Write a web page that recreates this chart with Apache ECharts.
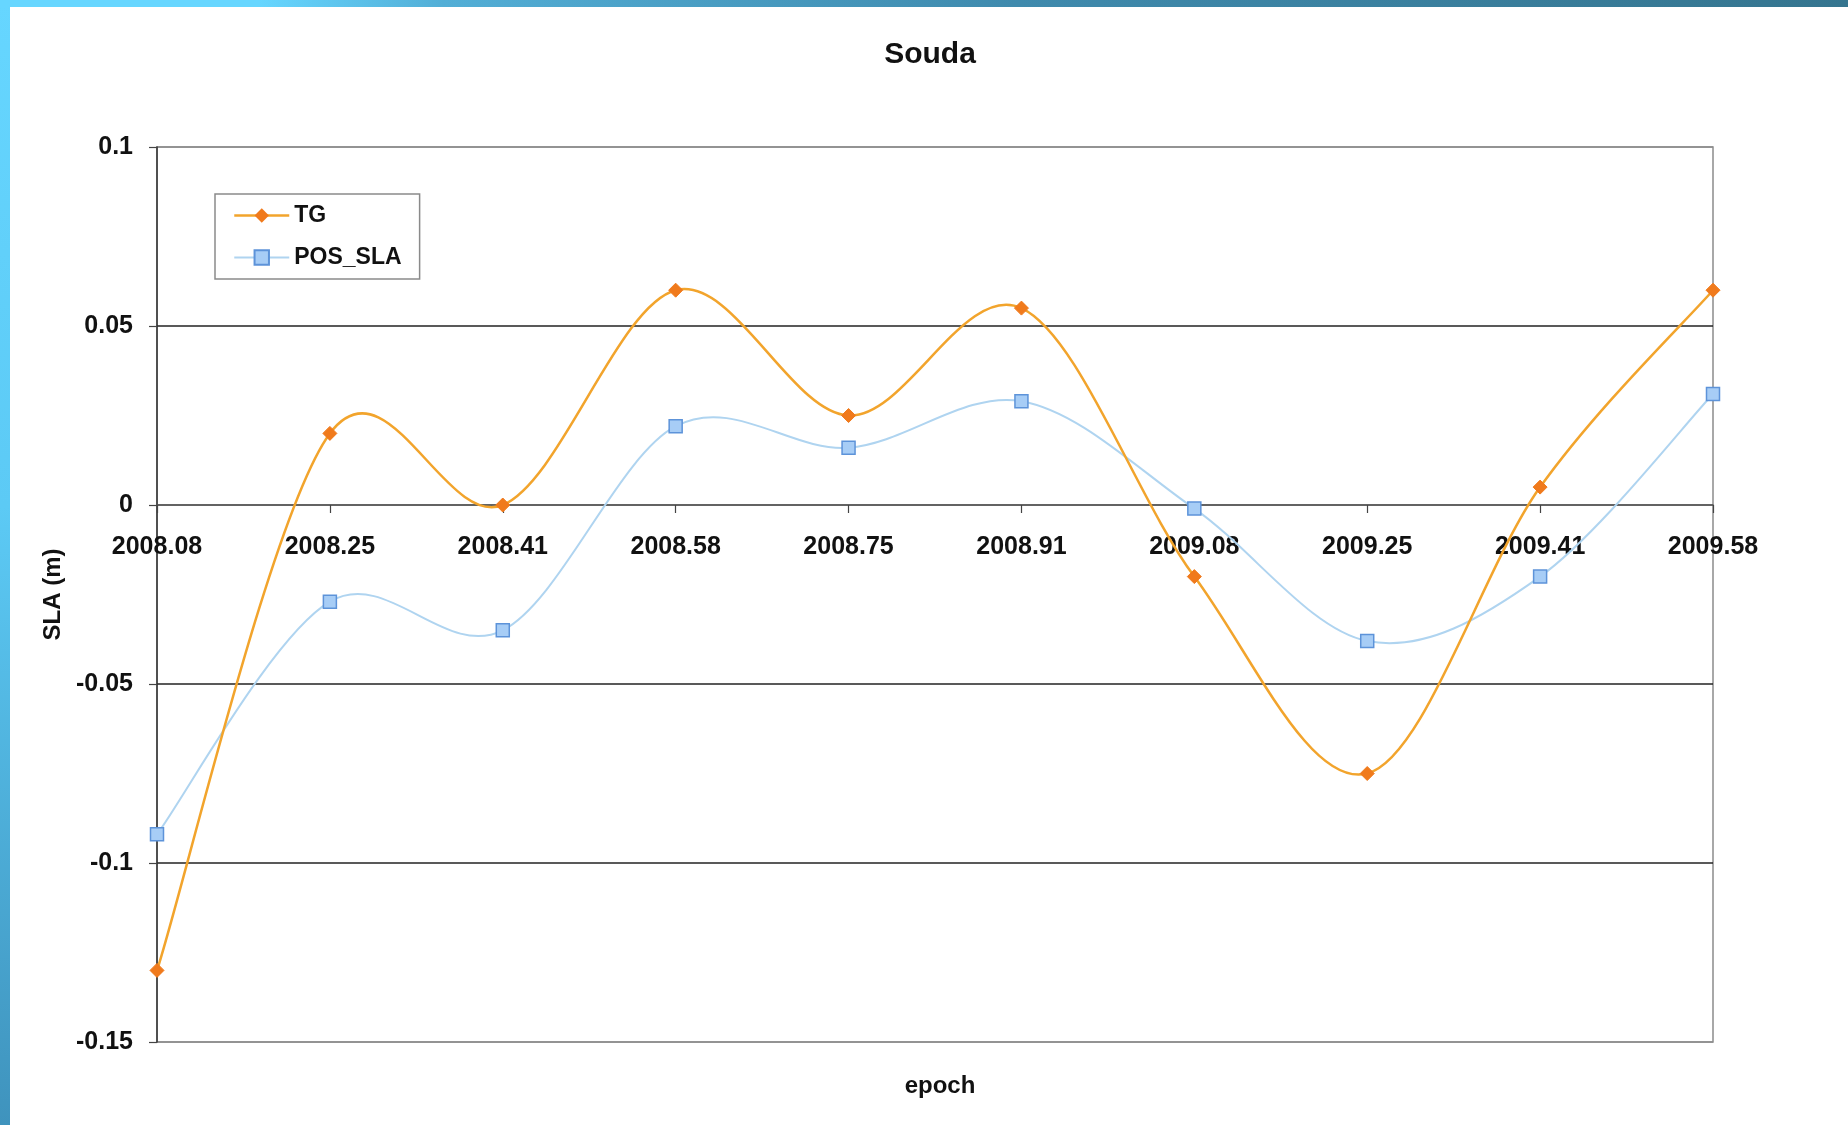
<!DOCTYPE html>
<html>
<head>
<meta charset="utf-8">
<title>Souda</title>
<script src="https://cdn.jsdelivr.net/npm/echarts@6/dist/echarts.min.js"></script>
<style>
  html, body { margin: 0; padding: 0; background: #ffffff; }
  #chart { width: 1848px; height: 1125px; }
</style>
</head>
<body>
<div id="chart"></div>
<script>
// Epochs (decimal years) along the horizontal axis
const epochs = ['2008.08', '2008.25', '2008.41', '2008.58', '2008.75', '2008.91', '2009.08', '2009.25', '2009.41', '2009.58'];

// Sea level anomaly from the tide gauge (m)
const tgValues = [-0.130, 0.020, 0.000, 0.060, 0.025, 0.055, -0.020, -0.075, 0.005, 0.060];

// Sea level anomaly from positioning (m)
const posSlaValues = [-0.092, -0.027, -0.035, 0.022, 0.016, 0.029, -0.001, -0.038, -0.020, 0.031];

// Vertical axis range and step
const yMin = -0.15;
const yMax = 0.1;
const yStep = 0.05;

const FONT = '"Liberation Sans", Arial, sans-serif';

const TG_LINE = '#f2a42c';
const TG_MARK = '#f07a1c';
const POS_LINE = '#afd4f0';
const POS_FILL = '#a7cdf6';
const POS_EDGE = '#5d93d9';

// Spreadsheet-style smoothed curve: cubic Bezier segments whose control
// points follow the neighbouring points (Catmull-Rom, 1/6 tension).
function smoothCurve(values, color, width) {
  return function (params, api) {
    const i = params.dataIndex;
    const n = values.length;
    if (i >= n - 1) return null;
    const pt = (j) => {
      const k = Math.max(0, Math.min(n - 1, j));
      return api.coord([k, values[k]]);
    };
    const p0 = pt(i - 1), p1 = pt(i), p2 = pt(i + 1), p3 = pt(i + 2);
    return {
      type: 'bezierCurve',
      shape: {
        x1: p1[0], y1: p1[1],
        x2: p2[0], y2: p2[1],
        cpx1: p1[0] + (p2[0] - p0[0]) / 6,
        cpy1: p1[1] + (p2[1] - p0[1]) / 6,
        cpx2: p2[0] - (p3[0] - p1[0]) / 6,
        cpy2: p2[1] - (p3[1] - p1[1]) / 6
      },
      style: { stroke: color, lineWidth: width, fill: null }
    };
  };
}

const chart = echarts.init(document.getElementById('chart'), null, { renderer: 'canvas' });

const option = {
  backgroundColor: '#ffffff',
  animation: false,
  title: [
    {
      text: 'Souda',
      left: 925,
      top: 35,
      textAlign: 'center',
      textStyle: { fontFamily: FONT, fontSize: 30, fontWeight: 'bold', color: '#111' }
    },
    {
      text: 'epoch',
      left: 935,
      top: 1069,
      textAlign: 'center',
      textStyle: { fontFamily: FONT, fontSize: 24, fontWeight: 'bold', color: '#111' }
    }
  ],
  legend: {
    orient: 'vertical',
    left: 215,
    top: 194,
    padding: [10, 18, 10, 18],
    itemGap: 19,
    itemWidth: 55,
    itemHeight: 18,
    borderColor: '#8a8a8a',
    borderWidth: 1.5,
    textStyle: { fontFamily: FONT, fontSize: 23, fontWeight: 'bold', color: '#111' },
    data: [
      { name: 'TG', lineStyle: { color: TG_LINE, width: 2.5, opacity: 1 } },
      { name: 'POS_SLA', lineStyle: { color: POS_LINE, width: 2, opacity: 1 } }
    ]
  },
  grid: {
    left: 157,
    right: 135,
    top: 147,
    bottom: 83,
    show: true,
    borderColor: '#8c8c8c',
    borderWidth: 1.5
  },
  xAxis: {
    type: 'category',
    data: epochs,
    boundaryGap: false,
    offset: 0,
    axisLine: { onZero: false, lineStyle: { color: '#555', width: 1.5 } },
    axisTick: { show: true, inside: false, length: 8, lineStyle: { color: '#444', width: 1.2 } },
    axisLabel: { fontFamily: FONT, fontSize: 25, fontWeight: 'bold', color: '#111', margin: 30 },
    splitLine: { show: false }
  },
  yAxis: {
    type: 'value',
    min: yMin,
    max: yMax,
    interval: yStep,
    name: 'SLA (m)',
    nameLocation: 'middle',
    nameGap: 88,
    nameTextStyle: { fontFamily: FONT, fontSize: 24, fontWeight: 'bold', color: '#111' },
    axisLine: { show: true, lineStyle: { color: '#333', width: 1.5 } },
    axisTick: { show: true, inside: false, length: 8, lineStyle: { color: '#444', width: 1.2 } },
    axisLabel: { fontFamily: FONT, fontSize: 25, fontWeight: 'bold', color: '#111', margin: 24 },
    splitLine: {
      show: true,
      lineStyle: { color: ['#8c8c8c', '#222', '#222', '#666', '#222', '#8c8c8c'], width: 1.5 }
    }
  },
  series: [
    {
      name: 'TG curve',
      type: 'custom',
      coordinateSystem: 'cartesian2d',
      silent: true,
      z: 2,
      data: tgValues.map((v, i) => [i, v]),
      encode: { x: 0, y: 1 },
      renderItem: smoothCurve(tgValues, TG_LINE, 2.5)
    },
    {
      name: 'POS_SLA curve',
      type: 'custom',
      coordinateSystem: 'cartesian2d',
      silent: true,
      z: 1,
      data: posSlaValues.map((v, i) => [i, v]),
      encode: { x: 0, y: 1 },
      renderItem: smoothCurve(posSlaValues, POS_LINE, 2)
    },
    {
      name: 'TG',
      type: 'line',
      data: tgValues,
      symbol: 'diamond',
      symbolSize: 14,
      z: 4,
      lineStyle: { color: TG_LINE, width: 2.5, opacity: 0 },
      itemStyle: { color: TG_MARK, borderColor: TG_MARK }
    },
    {
      name: 'POS_SLA',
      type: 'line',
      data: posSlaValues,
      symbol: 'rect',
      symbolSize: 13,
      z: 3,
      lineStyle: { color: POS_LINE, width: 2, opacity: 0 },
      itemStyle: { color: POS_FILL, borderColor: POS_EDGE, borderWidth: 1.5 }
    }
  ],
  graphic: [
    {
      type: 'rect',
      left: 0,
      top: 0,
      z: 100,
      shape: { width: 10, height: 1125 },
      style: {
        fill: new echarts.graphic.LinearGradient(0, 0, 0, 1, [
          { offset: 0, color: '#66d6ff' },
          { offset: 0.45, color: '#5ccaf5' },
          { offset: 1, color: '#3f93bd' }
        ])
      }
    },
    {
      type: 'rect',
      left: 0,
      top: 0,
      z: 101,
      shape: { width: 1848, height: 7 },
      style: {
        fill: new echarts.graphic.LinearGradient(0, 0, 1, 0, [
          { offset: 0, color: '#66d6ff' },
          { offset: 0.14, color: '#66d6ff' },
          { offset: 0.24, color: '#52aed6' },
          { offset: 0.55, color: '#3f8aad' },
          { offset: 1, color: '#35758f' }
        ])
      }
    }
  ]
};

chart.setOption(option);

// Move the category axis (line, ticks, labels) up to the y = 0 level.
const zeroY = chart.convertToPixel({ yAxisIndex: 0 }, 0);
const bottomY = chart.convertToPixel({ yAxisIndex: 0 }, yMin);
chart.setOption({ xAxis: { offset: zeroY - bottomY } });
</script>
</body>
</html>
